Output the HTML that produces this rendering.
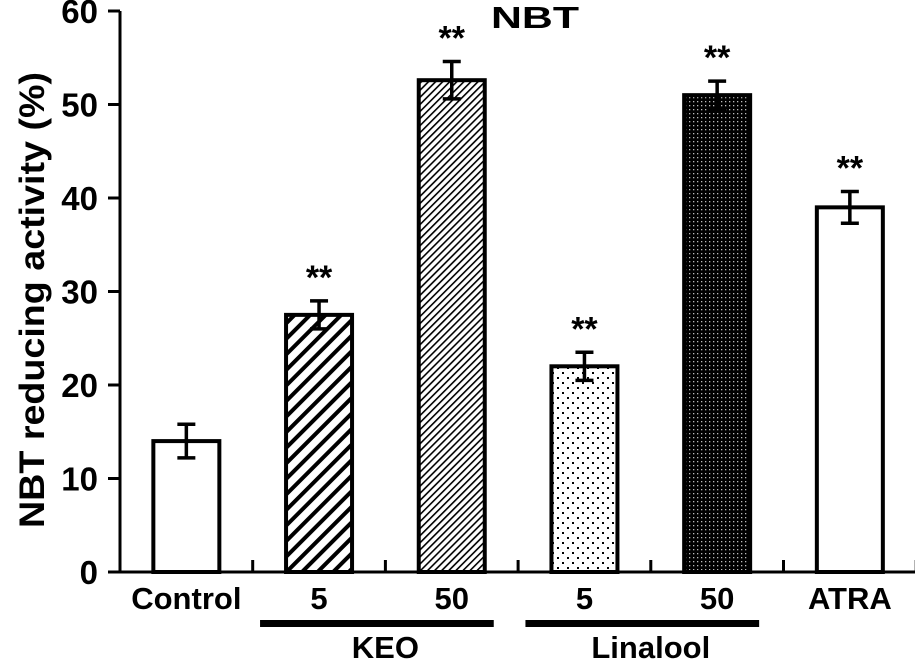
<!DOCTYPE html>
<html><head><meta charset="utf-8"><style>
html,body{margin:0;padding:0;background:#fff;}
svg{display:block;font-family:"Liberation Sans",Arial,sans-serif;font-weight:bold;}
</style></head><body>
<svg id="chart" width="915" height="659" viewBox="0 0 915 659" xmlns="http://www.w3.org/2000/svg">
<defs>
<pattern id="p-wide" patternUnits="userSpaceOnUse" width="11" height="11" patternTransform="rotate(45)">
<rect width="11" height="11" fill="#fff"/><rect width="4" height="11" fill="#000"/></pattern>
<pattern id="p-fine" patternUnits="userSpaceOnUse" width="5" height="5" patternTransform="rotate(45)">
<rect width="5" height="5" fill="#fff"/><rect width="1.6" height="5" fill="#000"/></pattern>
<pattern id="p-dots" patternUnits="userSpaceOnUse" width="10" height="10">
<rect width="10" height="10" fill="#fff"/><rect x="2" y="2" width="2" height="2" fill="#000"/><rect x="7" y="7" width="2" height="2" fill="#000"/></pattern>
<pattern id="p-dense" patternUnits="userSpaceOnUse" width="4" height="4">
<rect width="4" height="4" fill="#000"/><rect x="1" y="1" width="1.3" height="1.3" fill="#bbb"/></pattern>
</defs>
<text x="535" y="28" font-size="31" text-anchor="middle" textLength="88" lengthAdjust="spacingAndGlyphs">NBT</text>
<text transform="translate(44,300) rotate(-90)" font-size="35" text-anchor="middle" textLength="456" lengthAdjust="spacingAndGlyphs">NBT reducing activity (%)</text>
<g id="axes"></g>
<g id="bars"></g>
</svg>
<script>
const categories = ["Control","5","50","5","50","ATRA"];
const values = [14, 27.5, 52.6, 22, 51, 39];
const errors = [1.8, 1.5, 2, 1.5, 1.5, 1.7];
const significance = ["", "**", "**", "**", "**", "**"];
const fills = ["#fff","url(#p-wide)","url(#p-fine)","url(#p-dots)","url(#p-dense)","#fff"];
const yTicks = [0,10,20,30,40,50,60];
const groups = [{label:"KEO",from:1,to:2},{label:"Linalool",from:3,to:4}];

const NS="http://www.w3.org/2000/svg";
const x0=120, step=132.7, y0=572, pxPerUnit=9.35;
const xCenter=i=>x0+step*(i+0.5);
const y=v=>y0-v*pxPerUnit;
function mk(tag,attrs,parent,text){const e=document.createElementNS(NS,tag);for(const k in attrs)e.setAttribute(k,attrs[k]);if(text!==undefined)e.textContent=text;parent.appendChild(e);return e;}
const axes=document.getElementById('axes'), bars=document.getElementById('bars');

const ya=mk('line',{x1:x0,y1:y(60),x2:x0,y2:y0,stroke:'#000','stroke-width':3},axes);


yTicks.forEach(t=>{
  const l=mk('line',{x1:x0-12,y1:y(t),x2:x0,y2:y(t),stroke:'#000','stroke-width':3},axes);
  
  
  const tx=mk('text',{x:x0-22,y:y(t)+12,'font-size':33,'text-anchor':'end'},axes,String(t));
  
  
});
const xa=mk('line',{x1:x0,y1:y0,x2:915,y2:y0,stroke:'#000','stroke-width':3},axes);


for(let i=1;i<=categories.length;i++){
  const l=mk('line',{x1:x0+step*i,y1:y0-12,x2:x0+step*i,y2:y0,stroke:'#000','stroke-width':3},axes);
  
  
}
const bw=66;
categories.forEach((c,i)=>{
  const cx=xCenter(i);
  const r=mk('rect',{x:cx-bw/2,y:y(values[i]),width:bw,height:y0-y(values[i]),fill:fills[i],stroke:'#000','stroke-width':4},bars);
  
  
  const top=y(values[i]+errors[i]), bot=y(values[i]-errors[i]);
  const e=mk('path',{d:`M${cx},${top}V${bot}M${cx-9},${top}H${cx+9}M${cx-9},${bot}H${cx+9}`,stroke:'#000','stroke-width':3.5,fill:'none'},bars);
  
  
  if(significance[i]){
    const s=mk('text',{x:cx,y:top-12,'font-size':34,'text-anchor':'middle'},bars,significance[i]);
    
    
  }
  const lb=mk('text',{x:cx,y:609,'font-size':31,'text-anchor':'middle'},axes,c);
  
  
});
groups.forEach(g=>{
  const a=xCenter(g.from)-59, b=xCenter(g.to)+42;
  const l=mk('rect',{x:a,y:620,width:b-a,height:7,fill:'#000'},axes);
  
  
  const t=mk('text',{x:(xCenter(g.from)+xCenter(g.to))/2,y:658,'font-size':31,'text-anchor':'middle'},axes,g.label);
  
  
});
</script>
</body></html>
